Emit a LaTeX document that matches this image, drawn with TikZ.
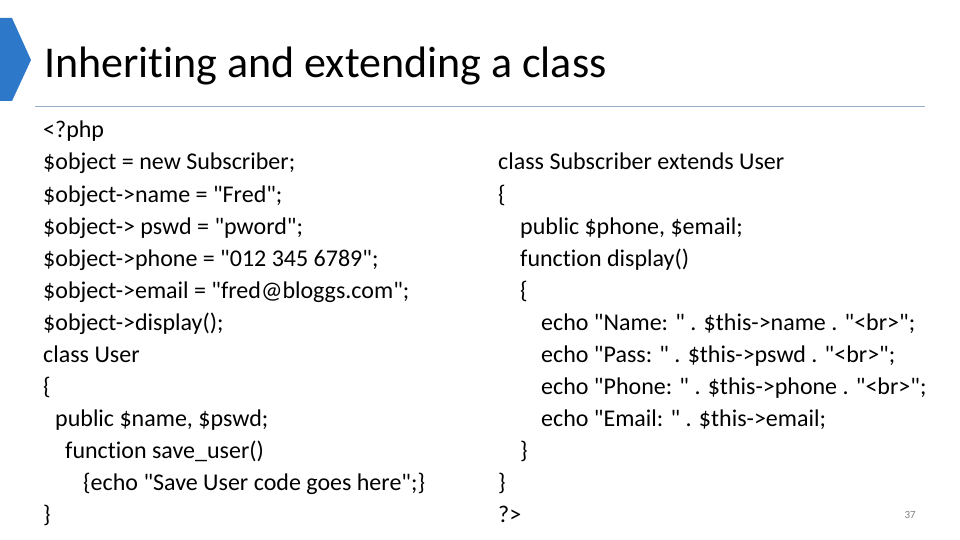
\documentclass[tikz,border=0pt]{standalone}
\usepackage{fontspec}
\setmainfont{Carlito}[Ligatures={TeXOff,CommonOff}]
\definecolor{rule}{RGB}{150,175,200}
\definecolor{chev}{RGB}{45,120,200}
\begin{document}
\begin{tikzpicture}[x=1pt,y=-1pt,
  code/.style={anchor=base west,inner sep=0pt,font=\fontsize{24}{28}\selectfont}]
\useasboundingbox (0,0) rectangle (960,540);
\fill[chev] (0,18) -- (12,18) -- (31,60) -- (12,101) -- (0,101) -- cycle;
\node[anchor=base west,inner sep=0pt,font=\fontsize{44}{48}\selectfont] (title) at (44,78) {Inheriting and extending a class};
\draw[rule,line width=0.8pt] (35,106) coordinate (ra) -- (925,106) coordinate (rb);
\node[code] (l1) at (43,138) {<?php};
\node[code] (l2) at (43,170) {\$object = new Subscriber;};
\node[code] (l3) at (43,202) {\$object->name = "Fred";};
\node[code] (l4) at (43,234) {\$object-> pswd = "pword";};
\node[code] (l5) at (43,266) {\$object->phone = "012 345 6789";};
\node[code] (l6) at (43,298) {\$object->email = "fred@bloggs.com";};
\node[code] (l7) at (43,330) {\$object->display();};
\node[code] (l8) at (43,362) {class User};
\node[code] (l9) at (43,394) {\{};
\node[code] (l10) at (55,426) {public \$name, \$pswd;};
\node[code] (l11) at (65,458) {function save\_user()};
\node[code] (l12) at (83,490) {\{echo "Save User code goes here";\}};
\node[code] (l13) at (43,522) {\}};
\node[code] (r1) at (498,170) {class Subscriber extends User};
\node[code] (r2) at (498,202) {\{};
\node[code] (r3) at (520,234) {public \$phone, \$email;};
\node[code] (r4) at (520,266) {function display()};
\node[code] (r5) at (520,298) {\{};
\node[code] (r6) at (541,330) {echo "Name: " . \$this->name . "<br>";};
\node[code] (r7) at (541,362) {echo "Pass: " . \$this->pswd . "<br>";};
\node[code] (r8) at (541,394) {echo "Phone: " . \$this->phone . "<br>";};
\node[code] (r9) at (541,426) {echo "Email: " . \$this->email;};
\node[code] (r10) at (520,458) {\}};
\node[code] (r11) at (498,490) {\}};
\node[code] (r12) at (498,522) {?>};
\node[anchor=base east,inner sep=0pt,font=\fontsize{11}{12}\selectfont,text=gray] (pg) at (916,518) {37};
\end{tikzpicture}
\end{document}
